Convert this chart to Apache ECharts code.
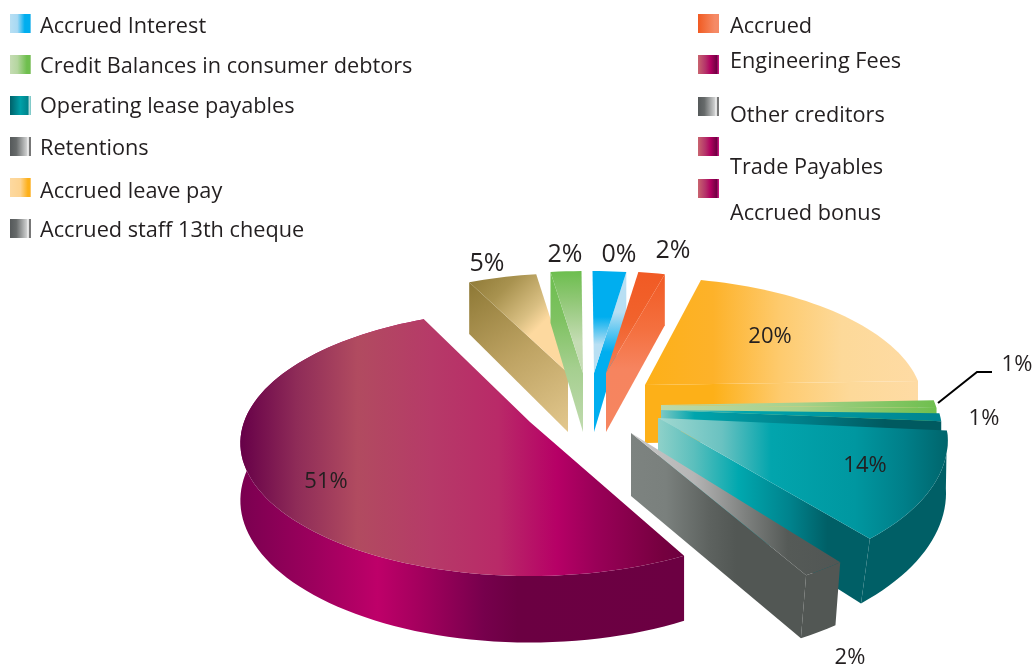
<!DOCTYPE html>
<html>
<head>
<meta charset="utf-8">
<style>html,body{margin:0;padding:0;background:#fff}#c{width:1033px;height:666px}</style>
<script src="https://cdn.jsdelivr.net/npm/echarts@6/dist/echarts.min.js"></script>
</head>
<body>
<div id="c"></div>
<script>
// ---- data (clockwise, starting at the tan slice) ----
var categories = ['Accrued bonus','Credit Balances in consumer debtors','Accrued Interest','Accrued',
  'Accrued leave pay','Accrued staff 13th cheque','Other creditors','Operating lease payables',
  'Retentions','Trade Payables','Engineering Fees'];
// printed percentages
var printedLabels = ['5%','2%','0%','2%','20%','1%','1%','14%','2%','51%',''];
// share of the circle (in %) each slice occupies as drawn
var drawnShares = [5,2.2,2.4,1.9,20.7,1,1,12.3,2,50.7,0];
var legendLeft = ['Accrued Interest','Credit Balances in consumer debtors','Operating lease payables','Retentions','Accrued leave pay','Accrued staff 13th cheque'];
var legendRight = ['Accrued','Engineering Fees','Other creditors','Trade Payables','Accrued bonus'];

// ---- layout and styling ----
var FONT = '"Open Sans","Noto Sans",sans-serif', INK = '#231f20';
var START = -26.3, K = 0.158, A = 286, B = 129.7;
var G = echarts.graphic.LinearGradient;
function hg(s){ return new G(0,0,1,0,s.map(function(p){return {offset:p[0],color:p[1]};})); }
function vg(s){ return new G(0,0,0,1,s.map(function(p){return {offset:p[0],color:p[1]};})); }
function dg(s){ return new G(0,0,1,1,s.map(function(p){return {offset:p[0],color:p[1]};})); }

var greenV = vg([[0,'#6cbe4e'],[.25,'#8cc671'],[.7,'#c5dcb4'],[1,'#c5dcb4']]);
var sliceLook = [
 {apex:[568,373],r:.89,D:59,z:3,startWall:dg([[0,'#8d7835'],[.5,'#bfa464'],[1,'#e3c88e']]),
  top:dg([[0,'#8d7835'],[.25,'#a8924f'],[.5,'#d9bf82'],[.62,'#fdd99f'],[1,'#fdd99f']])},
 {apex:[583,373],r:.91,D:59,z:3,startWall:vg([[0,'#6cbe4e'],[.3,'#7fc262'],[.6,'#a5cf8f'],[1,'#c1dbaf']]),top:greenV},
 {apex:[594,373],r:.91,D:59,z:3,endWall:vg([[0,'#b8dff3'],[.25,'#b8dff3'],[.5,'#00aeef'],[1,'#00aeef']]),
  top:vg([[0,'#00aeef'],[.45,'#00aeef'],[.72,'#b8dff3'],[1,'#b8dff3']])},
 {apex:[606,373],r:.91,D:59,z:3,endWall:vg([[0,'#f15a24'],[.35,'#f4703f'],[.6,'#f6845f'],[1,'#f6855f']]),
  top:vg([[0,'#f15a24'],[.5,'#f1632d'],[1,'#f47e58']])},
 {apex:[645,385],r:.96,D:58,rot:-1.5,z:2,endWall:hg([[0,'#fdb018'],[.25,'#fdb018'],[.5,'#fecb6f'],[.75,'#fdd999'],[1,'#fedba4']]),
  top:hg([[0,'#fdb018'],[.25,'#fdb22a'],[.5,'#fecb6f'],[.72,'#fdd999'],[1,'#fedba4']])},
 {apex:[661,405],r:.96,D:20,rot:-1.8,z:4,endWall:hg([[0,'#bcd9a9'],[.5,'#a6d18c'],[1,'#6fbf4e']]),
  top:hg([[0,'#bcd9a9'],[.5,'#a6d18c'],[1,'#6fbf4e']])},
 {apex:[661,410],r:.97,D:20,rot:-1.8,z:5,endWall:hg([[0,'#7cc8c4'],[.12,'#00a5ad'],[.5,'#007f89'],[.8,'#005a60'],[1,'#005a60']]),
  top:hg([[0,'#7cc8c4'],[.3,'#00a5ad'],[1,'#00838f']])},
 {apex:[658,418],r:1,ry:1.08,D:57,shift:11.7,rot:-1.8,z:6,outer:'#005f66',
  endWall:hg([[0,'#8fd1c9'],[.17,'#5bbfbd'],[.38,'#00a8af'],[.62,'#00838d'],[.8,'#005f66'],[1,'#005f66']]),
  top:hg([[0,'#a2d9d1'],[.22,'#6ac2c1'],[.39,'#02a5ad'],[.68,'#0097a0'],[.85,'#007f89'],[1,'#00656c']])},
 {apex:[631,433],r:1.06,ry:1.03,D:63,p:0,shift:6,rot:1.8,z:7,outer:'#525754',
  endWall:hg([[0,'#7d8380'],[.2,'#7a807d'],[.45,'#5d625f'],[.6,'#525754'],[1,'#525754']]),
  top:hg([[0,'#c9c9c9'],[.3,'#b5b5b5'],[.55,'#7d807e'],[.75,'#555a57'],[1,'#515654']])},
 {apex:[530,422],r:1,D:56,rot:4.1,z:1,
  outer:hg([[0,'#7a0050'],[.165,'#9c005d'],[.309,'#be0069'],[.4,'#a5005e'],[.55,'#76004c'],[.625,'#6b0042'],[1,'#6c0042']]),
  top:hg([[0,'#660048'],[.128,'#8f2c58'],[.264,'#b14b60'],[.43,'#b63a68'],[.58,'#b92a68'],[.714,'#b60066'],[.8,'#9a0058'],[.953,'#75003f'],[1,'#6e0040']])},
 {apex:[0,0],r:0,D:0,z:1}
];
var labelSpots = [[487,264,25],[565,255,25],[619,255,25],[673,251,25],[770,337,22],[1017,365,22],[984,419,22],[865,466,22],[850,658,22],[326,482,22],[0,0,20]];
var leaderLine = [[938,403],[977,372],[992,372]];

var magSw = [[0,'#c9646f'],[.35,'#b5336a'],[.6,'#b0005f'],[.9,'#6c0040'],[.95,'#c0147a'],[1,'#c0147a']];
var graySw = [[0,'#55595a'],[.3,'#666a6a'],[.8,'#cfd0d0'],[.87,'#ffffff'],[.92,'#777'],[1,'#777']];
var swatch = {
 'Accrued Interest':hg([[0,'#b8dff3'],[.35,'#a8d9f3'],[.7,'#00aeef'],[.95,'#00aeef'],[1,'#b8dff3']]),
 'Credit Balances in consumer debtors':hg([[0,'#c5dcb4'],[.35,'#b5d6a0'],[.8,'#6fbf4e'],[.95,'#6fbf4e'],[1,'#c5dcb4']]),
 'Operating lease payables':hg([[0,'#006069'],[.5,'#00a0a8'],[.85,'#00848c'],[.92,'#b9dedd'],[1,'#6ac2c1']]),
 'Retentions':hg(graySw),
 'Accrued leave pay':hg([[0,'#fdd9a0'],[.5,'#fdd390'],[.85,'#fdb01a'],[.95,'#fdb01a'],[1,'#fdd9a0']]),
 'Accrued staff 13th cheque':hg(graySw),
 'Accrued':hg([[0,'#f15a22'],[.4,'#f37343'],[.8,'#f58a66'],[1,'#f58a66']]),
 'Engineering Fees':hg(magSw),
 'Other creditors':hg(graySw),
 'Trade Payables':hg(magSw),
 'Accrued bonus':hg(magSw)
};
// legend placement
var leftTops = [14,55,96,137,178,219];
var rightTops = [14,55,97,137,179];
var leftTextY = [26.5,66.5,107,149,191.5,231];
var rightTextY = [26.5,61.5,115.5,167.5,213.5];

function pt(deg, look){
  var a = deg*Math.PI/180, u = Math.sin(a), v = -Math.cos(a), s = 1/(1-K*v);
  var X = A*look.r*u*s, Y = B*look.r*(look.ry||1)*v*s;
  var p = look.p===undefined?1:look.p, d = look.D*(1+(s-1)*p), sh = (look.shift||0)*Math.max(v,0);
  return {t:[look.apex[0]+X, look.apex[1]+Y], b:[look.apex[0]+X-sh, look.apex[1]+Y+d]};
}
var starts = [], acc = START;
drawnShares.forEach(function(v){ starts.push(acc); acc += v*3.6; });

function poly(points, fill){
  return {type:'polygon',shape:{points:points},style:{fill:fill,stroke:null}};
}
function makeRender(i){
  return function(params, api){
    var share = api.value(0), look = sliceLook[i], kids = [];
    if(share > 0){
      var a0 = starts[i]+(look.rot||0), a1 = a0 + share*3.6, top = [], bot = [], n = Math.max(2,Math.ceil((a1-a0)/2));
      for(var j=0;j<=n;j++){ var q = pt(a0+(a1-a0)*j/n, look); top.push(q.t); bot.push(q.b); }
      var ap = look.apex, apB = [ap[0],ap[1]+look.D];
      if(look.outer) kids.push(poly(top.concat(bot.slice().reverse()), look.outer));
      if(look.startWall) kids.push(poly([ap,top[0],bot[0],apB], look.startWall));
      if(look.endWall) kids.push(poly([ap,top[n],bot[n],apB], look.endWall));
      kids.push(poly([ap].concat(top), look.top));
    }
    var spot = labelSpots[i];
    if(printedLabels[i]) kids.push({type:'text',z2:50,style:{x:spot[0],y:spot[1],text:printedLabels[i],
      fill:INK,font:'400 '+spot[2]+'px '+FONT,align:'center',verticalAlign:'middle'}});
    if(i===5) kids.push({type:'polyline',shape:{points:leaderLine},style:{stroke:'#000',lineWidth:2,fill:null}});
    return {type:'group',children:kids};
  };
}
var series = categories.map(function(name,i){
  return {type:'custom',name:name,coordinateSystem:'none',z:sliceLook[i].z,silent:true,animation:false,
    itemStyle:{color:swatch[name]},data:[[drawnShares[i]]],renderItem:makeRender(i),clip:false};
});
// one legend draws each swatch, a second one (without icon) places its text
function swatchLegend(name,x,top){
  return {left:x,top:top,padding:0,itemWidth:21,itemHeight:19,selectedMode:false,icon:'rect',data:[name],
    formatter:function(){return ' ';},textStyle:{fontSize:1}};
}
function textLegend(name,x,cy){
  return {left:x-5,top:cy-15,padding:0,itemWidth:0,itemHeight:30,selectedMode:false,icon:'none',data:[name],
    textStyle:{fontFamily:FONT,fontSize:21.7,fontWeight:400,color:INK}};
}
var legends = [];
legendLeft.forEach(function(n,i){ legends.push(swatchLegend(n,10,leftTops[i]), textLegend(n,40,leftTextY[i])); });
legendRight.forEach(function(n,i){ legends.push(swatchLegend(n,698,rightTops[i]), textLegend(n,730,rightTextY[i])); });
var chart = echarts.init(document.getElementById('c'),null,{renderer:'canvas',width:1033,height:666});
chart.setOption({animation:false,backgroundColor:'#fff',legend:legends,series:series});
</script>
</body>
</html>
